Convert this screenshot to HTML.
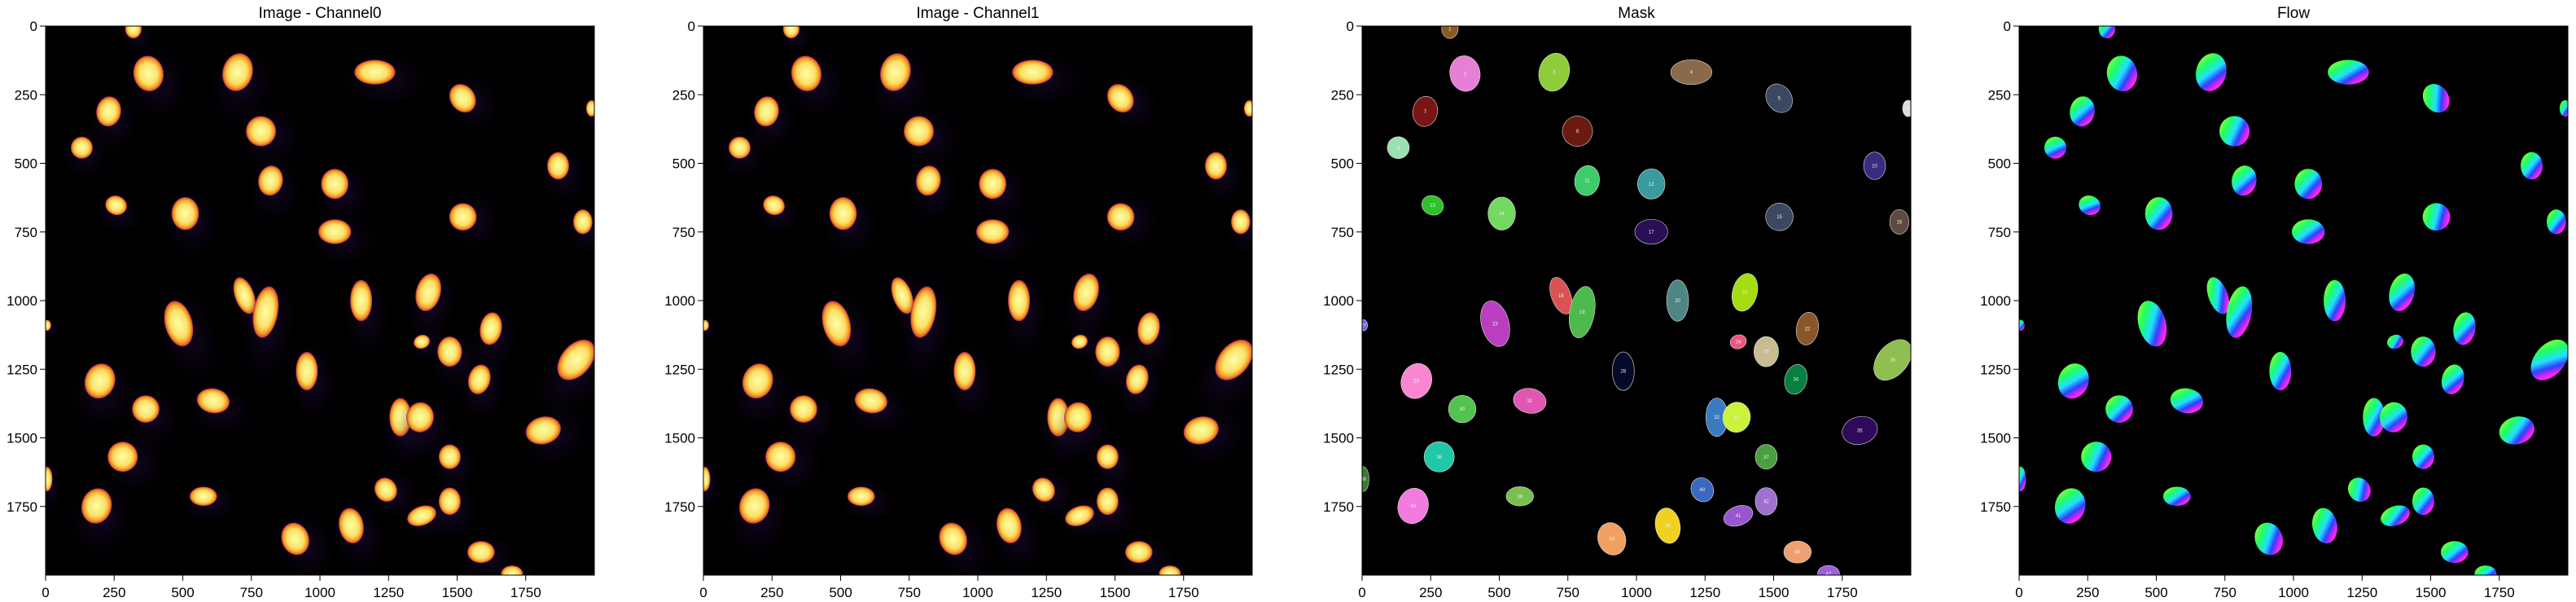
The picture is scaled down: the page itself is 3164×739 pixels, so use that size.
<!DOCTYPE html>
<html><head><meta charset="utf-8"><style>
body{margin:0;background:#fff;width:3164px;height:739px;overflow:hidden;font-family:"Liberation Sans",sans-serif}
svg{position:absolute;left:0;top:0}
</style></head><body>
<svg id="fig" width="3164" height="739" viewBox="0 0 3164 739"></svg>
<script>
const panelTitles=["Image - Channel0","Image - Channel1","Mask","Flow"];
const panelLefts=[56,864,1673,2480];
const tickVals=[0,250,500,750,1000,1250,1500,1750];
const nx=[320,375,700,1200,1520,1990,230,785,132,1868,820,1054,257,509,1521,1958,1054,725,802,1150,1395,1623,485,1371,1473,1934,5,952,198,365,611,1293,1365,1581,1814,281,1473,5,575,1240,1371,1473,186,910,1114,1587,1700];
const ny=[10,173,168,168,263,300,311,383,443,509,563,575,653,683,695,713,749,982,1042,1000,970,1102,1084,1150,1186,1216,1090,1257,1293,1395,1365,1425,1425,1287,1473,1569,1569,1650,1713,1689,1784,1731,1748,1868,1820,1916,1995];
const nrx=[30,55,55,75,45,20,45,55,40,40,45,50,40,50,50,35,60,35,45,40,45,40,50,30,45,55,15,40,55,50,60,40,50,40,65,55,40,20,50,40,55,40,55,50,45,50,40];
const nry=[35,65,70,45,55,30,55,55,40,50,55,55,35,60,50,45,45,70,95,75,70,60,85,25,55,85,20,70,65,50,45,70,55,55,50,55,45,45,35,45,35,50,65,60,65,40,30];
const nrot=[0,-10,15,0,-35,0,10,-20,20,0,10,0,20,0,-30,0,0,-20,10,0,15,10,-15,-20,0,40,0,0,20,0,10,0,10,15,-15,-20,0,0,0,-30,-20,0,15,-20,-10,0,0];
const maskColors=["#8a5a1e","#e67fd6","#8fcc3a","#8a6a4a","#3a4862","#ddd","#7a1515","#6b1a10","#9ae0b0","#3a2a80","#3dcc6a","#3a9aa0","#2ec22a","#74d863","#3a4862","#5e4a40","#2a0f55","#d95353","#4fba4c","#4f8582","#a5dc12","#8a5528","#b93fc0","#f05580","#c9bc90","#90be50","#7060e0","#050a28","#fa86d2","#53c350","#e158b4","#3a7ac0","#ccf23a","#05803f","#2e0a5a","#20c8a8","#4aa040","#3a7a30","#7ac050","#3a6ac0","#9a55d0","#a070d0","#f27ae0","#f0a060","#f0d020","#f0a070","#a060e0"];
const svg=document.getElementById('fig');
const NS="http://www.w3.org/2000/svg";
const S=674,TOP=32;
function sx(v){return v/2000*S;}
function mk(t,a,p){const e=document.createElementNS(NS,t);for(const k in a)e.setAttribute(k,a[k]);(p||svg).appendChild(e);return e;}
const defs=mk('defs',{});
defs.innerHTML=`<radialGradient id="inf" cx="50%" cy="50%" r="50%"><stop offset="0" stop-color="#fcffa4"/><stop offset="0.6" stop-color="#fbe06a"/><stop offset="0.82" stop-color="#f5a623"/><stop offset="0.94" stop-color="#e55c30"/><stop offset="1" stop-color="#8a226a"/></radialGradient>
<radialGradient id="halo" cx="50%" cy="50%" r="50%"><stop offset="0" stop-color="#2a0c4a" stop-opacity="0.45"/><stop offset="1" stop-color="#1a0830" stop-opacity="0"/></radialGradient>
<linearGradient id="flow" x1="0" y1="0" x2="1" y2="1"><stop offset="0" stop-color="#d0ff20"/><stop offset="0.3" stop-color="#20ff60"/><stop offset="0.5" stop-color="#20e0ff"/><stop offset="0.65" stop-color="#3040ff"/><stop offset="0.8" stop-color="#ff20ff"/><stop offset="1" stop-color="#ff3040"/></linearGradient>`;
panelTitles.forEach((title,p)=>{
  const L=panelLefts[p];
  const g=mk('g',{transform:`translate(${L},${TOP})`});
  
  
  const cp=mk('clipPath',{id:'c'+p},defs);mk('rect',{x:0,y:0,width:S,height:S},cp);
  const img=mk('g',{'clip-path':`url(#c${p})`},g);
  mk('rect',{x:0,y:0,width:S,height:S,fill:'#000'},img);
  for(let i=0;i<nx.length;i++){
    const cx=sx(nx[i]),cy=sx(ny[i]),rx=sx(nrx[i]),ry=sx(nry[i]);
    const tr=`rotate(${nrot[i]} ${cx} ${cy})`;
    let e;
    if(p<2){
      mk('ellipse',{cx:cx+rx*0.5,cy:cy+ry*0.6,rx:rx*2.2,ry:ry*2.2,fill:'url(#halo)',transform:tr},img);
      e=mk('ellipse',{cx,cy,rx,ry,fill:'url(#inf)',transform:tr},img);
    }else if(p==2){
      e=mk('ellipse',{cx,cy,rx,ry,fill:maskColors[i%maskColors.length],stroke:'#ddd','stroke-width':0.6,transform:tr},img);
      const t=mk('text',{x:cx,y:cy+2,'font-size':6,fill:'#eee','text-anchor':'middle'},img);t.textContent=i+1;
    }else{
      e=mk('ellipse',{cx,cy,rx,ry,fill:'url(#flow)',transform:tr},img);
    }
    
    
  }
  const fr=mk('rect',{x:0,y:0,width:S,height:S,fill:'none',stroke:'#000','stroke-width':1},g);
  
  
  const tt=mk('text',{x:S/2,y:-10,'font-size':19,'text-anchor':'middle',fill:'#000'},g);
  tt.textContent=title;
  
  
  tickVals.forEach(v=>{
    const x=sx(v);
    mk('line',{x1:x,y1:S,x2:x,y2:S+7,stroke:'#000','stroke-width':1},g);
    const a=mk('text',{x:x,y:S+27,'font-size':17,'text-anchor':'middle'},g);a.textContent=v;
    
    
    mk('line',{x1:-7,y1:x,x2:0,y2:x,stroke:'#000','stroke-width':1},g);
    const b=mk('text',{x:-10,y:x+6,'font-size':17,'text-anchor':'end'},g);b.textContent=v;
    
    
  });
});
</script>
</body></html>
